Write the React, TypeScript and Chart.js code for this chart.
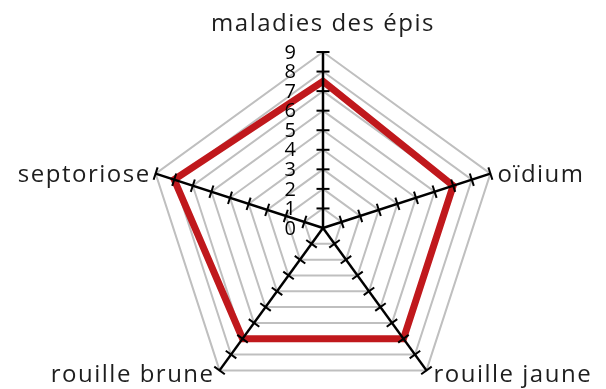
import React, { useEffect, useRef } from 'react';
import { Chart, registerables } from 'chart.js';

Chart.register(...registerables);

const categories = ['maladies des épis', 'oïdium', 'rouille jaune', 'rouille brune', 'septoriose'];
const seriesValues = [7.5, 7, 7, 7, 8];
const tickLabels = ['0', '1', '2', '3', '4', '5', '6', '7', '8', '9'];
const scaleMin = 0;
const scaleMax = 9;

const FONT = '"Open Sans", "Noto Sans", sans-serif';

const axesPlugin = {
  id: 'radarAxes',
  afterDatasetsDraw(chart: any) {
    const scale = chart.scales.r;
    const ctx = chart.ctx;
    const n = chart.data.labels.length;
    ctx.save();
    ctx.strokeStyle = '#000';
    for (let i = 0; i < n; i++) {
      const c = scale.getPointPositionForValue(i, scaleMin);
      const e = scale.getPointPositionForValue(i, scaleMax);
      ctx.lineWidth = 2.5;
      ctx.beginPath();
      ctx.moveTo(c.x, c.y);
      ctx.lineTo(e.x, e.y);
      ctx.stroke();
      const a = e.angle;
      const px = -Math.sin(a);
      const py = Math.cos(a);
      ctx.lineWidth = 2;
      for (let v = scaleMin + 1; v <= scaleMax; v++) {
        const p = scale.getPointPositionForValue(i, v);
        ctx.beginPath();
        ctx.moveTo(p.x - px * 6.5, p.y - py * 6.5);
        ctx.lineTo(p.x + px * 6.5, p.y + py * 6.5);
        ctx.stroke();
      }
    }
    // tick labels along the first axis
    ctx.fillStyle = '#000';
    ctx.font = `20px ${FONT}`;
    ctx.textAlign = 'right';
    ctx.textBaseline = 'middle';
    tickLabels.forEach((t) => {
      const p = scale.getPointPositionForValue(0, Number(t));
      ctx.fillText(t, p.x - 27, p.y + 1);
    });
    // point labels
    ctx.fillStyle = '#1e1e1e';
    ctx.font = `24px ${FONT}`;
    (ctx as any).letterSpacing = '1.5px';
    ctx.textBaseline = 'alphabetic';
    chart.data.labels.forEach((lab: string, i: number) => {
      const e = scale.getPointPositionForValue(i, scaleMax);
      if (Math.abs(e.x - scale.xCenter) < 1) {
        ctx.textAlign = 'center';
        ctx.fillText(lab, e.x, e.y - 21);
      } else {
        const right = e.x > scale.xCenter;
        ctx.textAlign = right ? 'left' : 'right';
        const dy = e.y > scale.yCenter ? 12 : 8;
        ctx.fillText(lab, right ? e.x + 7 : e.x - 5, e.y + dy);
      }
    });
    ctx.restore();
  },
};

export default function App() {
  const ref = useRef<HTMLCanvasElement>(null);
  useEffect(() => {
    if (!ref.current) return;
    const chart = new Chart(ref.current, {
      type: 'radar',
      data: {
        labels: categories,
        datasets: [
          {
            data: seriesValues,
            borderColor: '#C0181C',
            borderWidth: 7,
            borderJoinStyle: 'miter',
            fill: false,
            pointRadius: 0,
            pointHoverRadius: 0,
          },
        ],
      },
      options: {
        animation: false,
        responsive: true,
        maintainAspectRatio: false,
        layout: { padding: { left: 147, right: 107, top: 52, bottom: 26 } },
        plugins: { legend: { display: false }, tooltip: { enabled: false } },
        scales: {
          r: {
            min: scaleMin,
            max: scaleMax,
            ticks: { display: false, stepSize: 1 },
            grid: { color: '#BFBFBF', lineWidth: 2 },
            angleLines: { display: false },
            pointLabels: { display: false },
          },
        },
      },
      plugins: [axesPlugin],
    });
    return () => chart.destroy();
  }, []);
  return (
    <div style={{ position: 'fixed', left: 0, top: 0, width: 606, height: 389, overflow: 'hidden', background: '#fff' }}>
      <div style={{ position: 'relative', width: 606, height: 430 }}>
        <canvas ref={ref} />
      </div>
    </div>
  );
}
